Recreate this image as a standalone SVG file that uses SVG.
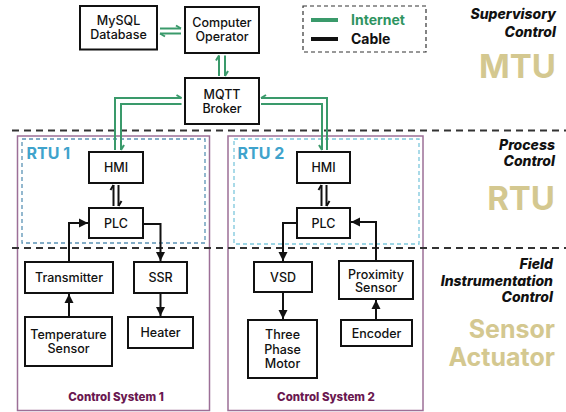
<svg xmlns="http://www.w3.org/2000/svg" width="566" height="412" viewBox="0 0 566 412">
  <defs>
    <style>
      .box { fill: #ffffff; stroke: #111111; stroke-width: 2; }
      .lbl { font-family: Inter, "Liberation Sans", sans-serif; font-size: 12.5px; font-weight: 500; fill: #111111; text-anchor: middle; }
      .tier { font-family: Inter, "Liberation Sans", sans-serif; font-size: 14px; font-weight: 800; font-style: italic; fill: #111111; text-anchor: end; }
      .big { font-family: Inter, "Liberation Sans", sans-serif; font-weight: 700; fill: #d4c890; text-anchor: end; }
      .sep { stroke: #333333; stroke-width: 2; stroke-dasharray: 7 5; fill: none; }
      .cs { fill: none; stroke: #9c6f97; stroke-width: 1.5; }
      .cslbl { font-family: Inter, "Liberation Sans", sans-serif; font-size: 11.5px; font-weight: 800; fill: #6a1850; text-anchor: middle; }
      .rtulbl { font-family: Inter, "Liberation Sans", sans-serif; font-size: 16px; font-weight: 700; fill: #3fa3cc; }
      .net { fill: none; stroke: #3a9a6b; stroke-width: 2; }
      .cable { fill: none; stroke: #111111; stroke-width: 2; }
    </style>
    <!-- half arrowheads: barb on the left of the travel direction -->
    <marker id="hg-l" markerUnits="userSpaceOnUse" viewBox="0 0 10 10" markerWidth="10" markerHeight="10" refX="8" refY="5" orient="auto" overflow="visible">
      <path d="M8,5 L3,2" fill="none" stroke="#3a9a6b" stroke-width="2"/>
    </marker>
    <!-- half arrowheads: barb on the right of the travel direction -->
    <marker id="hg-r" markerUnits="userSpaceOnUse" viewBox="0 0 10 10" markerWidth="10" markerHeight="10" refX="8" refY="5" orient="auto" overflow="visible">
      <path d="M8,5 L3,8" fill="none" stroke="#3a9a6b" stroke-width="2"/>
    </marker>
    <marker id="hb-l" markerUnits="userSpaceOnUse" viewBox="0 0 10 10" markerWidth="10" markerHeight="10" refX="8" refY="5" orient="auto" overflow="visible">
      <path d="M8,5 L3,2" fill="none" stroke="#111111" stroke-width="2"/>
    </marker>
    <marker id="arr" markerUnits="userSpaceOnUse" viewBox="0 0 10 10" markerWidth="10" markerHeight="10" refX="9" refY="5" orient="auto">
      <path d="M0,0.5 L9,5 L0,9.5 Z" fill="#111111"/>
    </marker>
  </defs>

  <rect width="566" height="412" fill="#ffffff"/>

  <!-- control system frames -->
  <g id="control-system-1">
    <rect class="cs" x="17.5" y="136" width="192" height="274.5"/>
    <text class="cslbl" x="116" y="400.5">Control System 1</text>
  </g>
  <g id="control-system-2">
    <rect class="cs" x="228" y="136" width="195" height="274.5"/>
    <text class="cslbl" x="326" y="400.5">Control System 2</text>
  </g>

  <!-- RTU regions -->
  <g id="rtu-1">
    <rect x="22" y="139" width="183" height="104" fill="none" stroke="#5b93b5" stroke-width="1.3" stroke-dasharray="4 3"/>
    <text class="rtulbl" x="26.5" y="159">RTU 1</text>
  </g>
  <g id="rtu-2">
    <rect x="234" y="139" width="185" height="105" fill="none" stroke="#7cc7dc" stroke-width="1.3" stroke-dasharray="4 3"/>
    <text class="rtulbl" x="237.5" y="159">RTU 2</text>
  </g>

  <!-- tier separators -->
  <g id="separators">
    <line class="sep" x1="12" y1="130.5" x2="566" y2="130.5"/>
    <line class="sep" x1="12" y1="248" x2="566" y2="248"/>
  </g>

  <!-- legend -->
  <g id="legend">
    <rect x="303" y="6" width="123" height="46" fill="none" stroke="#333333" stroke-width="1.2" stroke-dasharray="4 3"/>
    <line x1="311" y1="20" x2="338" y2="20" stroke="#3a9a6b" stroke-width="4"/>
    <line x1="311" y1="39" x2="338" y2="39" stroke="#111111" stroke-width="4"/>
    <text x="351" y="24.5" font-family="Inter, 'Liberation Sans', sans-serif" font-size="14" font-weight="700" fill="#2e9461">Internet</text>
    <text x="351" y="43.5" font-family="Inter, 'Liberation Sans', sans-serif" font-size="14" font-weight="700" fill="#111111">Cable</text>
  </g>

  <!-- tier captions -->
  <g id="tier-labels">
    <text class="tier" x="556" y="18.5">Supervisory</text>
    <text class="tier" x="556" y="36.5">Control</text>
    <text class="big" x="556" y="78" font-size="33">MTU</text>
    <text class="tier" x="555" y="150">Process</text>
    <text class="tier" x="555" y="166">Control</text>
    <text class="big" x="555" y="210" font-size="33">RTU</text>
    <text class="tier" x="553" y="269">Field</text>
    <text class="tier" x="553" y="286">Instrumentation</text>
    <text class="tier" x="553" y="302">Control</text>
    <text class="big" x="555" y="338" font-size="25">Sensor</text>
    <text class="big" x="555" y="365.5" font-size="25">Actuator</text>
  </g>

  <!-- connectors -->
  <g id="connectors">
    <!-- internet links -->
    <path class="net" d="M160,28.5 L181,28.5" marker-end="url(#hg-l)"/>
    <path class="net" d="M181,33.5 L160,33.5" marker-end="url(#hg-l)"/>
    <path class="net" d="M219,76 L219,55.5" marker-end="url(#hg-l)"/>
    <path class="net" d="M225,55.5 L225,76" marker-end="url(#hg-l)"/>
    <path class="net" d="M115,150 L115,98 L181.5,98" marker-end="url(#hg-l)"/>
    <path class="net" d="M181.5,104 L121,104 L121,150" marker-end="url(#hg-l)"/>
    <path class="net" d="M327,150 L327,98 L261,98" marker-end="url(#hg-r)"/>
    <path class="net" d="M261,104 L322,104 L322,150" marker-end="url(#hg-r)"/>
    <!-- HMI / PLC cable links -->
    <path class="cable" d="M113.5,206 L113.5,185" marker-end="url(#hb-l)"/>
    <path class="cable" d="M118.5,185 L118.5,206" marker-end="url(#hb-l)"/>
    <path class="cable" d="M321.5,206 L321.5,185" marker-end="url(#hb-l)"/>
    <path class="cable" d="M326.5,185 L326.5,206" marker-end="url(#hb-l)"/>
    <!-- field cable links -->
    <path class="cable" d="M69,317 L69,294" marker-end="url(#arr)"/>
    <path class="cable" d="M69,262 L69,223 L88,223" marker-end="url(#arr)"/>
    <path class="cable" d="M143,224 L160.5,224 L160.5,261" marker-end="url(#arr)"/>
    <path class="cable" d="M160.5,293 L160.5,316" marker-end="url(#arr)"/>
    <path class="cable" d="M297,223 L283,223 L283,261" marker-end="url(#arr)"/>
    <path class="cable" d="M283,292 L283,319" marker-end="url(#arr)"/>
    <path class="cable" d="M376,320 L376,300" marker-end="url(#arr)"/>
    <path class="cable" d="M376,261 L376,222 L351,222" marker-end="url(#arr)"/>
  </g>

  <!-- nodes -->
  <g id="mysql">
    <rect class="box" x="80" y="6" width="77" height="43.5"/>
    <text class="lbl" x="118.5" y="25">MySQL</text>
    <text class="lbl" x="118.5" y="39">Database</text>
  </g>
  <g id="computer-operator">
    <rect class="box" x="185" y="7" width="74" height="46"/>
    <text class="lbl" x="222" y="26.5">Computer</text>
    <text class="lbl" x="222" y="40.5">Operator</text>
  </g>
  <g id="mqtt-broker">
    <rect class="box" x="185" y="78" width="74" height="46"/>
    <text class="lbl" x="222" y="98.5">MQTT</text>
    <text class="lbl" x="222" y="112.5">Broker</text>
  </g>
  <g id="hmi-1">
    <rect class="box" x="89" y="152" width="54" height="31"/>
    <text class="lbl" x="116" y="172">HMI</text>
  </g>
  <g id="plc-1">
    <rect class="box" x="89" y="208" width="54" height="30"/>
    <text class="lbl" x="116" y="227.5">PLC</text>
  </g>
  <g id="hmi-2">
    <rect class="box" x="297" y="152" width="53" height="31"/>
    <text class="lbl" x="323.5" y="172">HMI</text>
  </g>
  <g id="plc-2">
    <rect class="box" x="297" y="208" width="53" height="30"/>
    <text class="lbl" x="323.5" y="227.5">PLC</text>
  </g>
  <g id="transmitter">
    <rect class="box" x="25" y="262" width="88" height="31"/>
    <text class="lbl" x="69" y="282">Transmitter</text>
  </g>
  <g id="temperature-sensor">
    <rect class="box" x="25" y="317" width="87" height="49"/>
    <text class="lbl" x="68.5" y="338.5">Temperature</text>
    <text class="lbl" x="68.5" y="352.5">Sensor</text>
  </g>
  <g id="ssr">
    <rect class="box" x="134" y="262" width="53" height="31"/>
    <text class="lbl" x="160.5" y="282">SSR</text>
  </g>
  <g id="heater">
    <rect class="box" x="128" y="317" width="65" height="31"/>
    <text class="lbl" x="160.5" y="337">Heater</text>
  </g>
  <g id="vsd">
    <rect class="box" x="254" y="262" width="58" height="30"/>
    <text class="lbl" x="283" y="282">VSD</text>
  </g>
  <g id="three-phase-motor">
    <rect class="box" x="248" y="320" width="69" height="58"/>
    <text class="lbl" x="282.5" y="339">Three</text>
    <text class="lbl" x="282.5" y="353.5">Phase</text>
    <text class="lbl" x="282.5" y="368">Motor</text>
  </g>
  <g id="proximity-sensor">
    <rect class="box" x="339" y="261" width="74" height="38"/>
    <text class="lbl" x="376" y="278.5">Proximity</text>
    <text class="lbl" x="376" y="292">Sensor</text>
  </g>
  <g id="encoder">
    <rect class="box" x="341" y="320" width="71" height="26"/>
    <text class="lbl" x="376.5" y="337.5">Encoder</text>
  </g>
</svg>
